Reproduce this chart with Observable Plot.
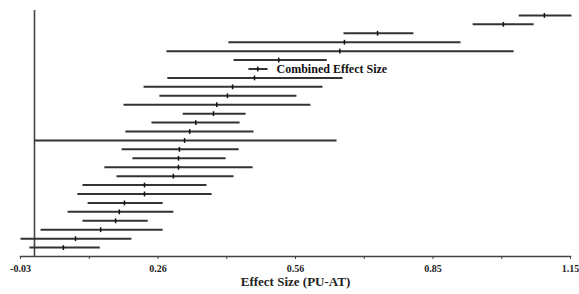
<!DOCTYPE html>
<html>
<head>
<meta charset="utf-8">
<script src="https://cdn.jsdelivr.net/npm/d3@7"></script>
<script src="https://cdn.jsdelivr.net/npm/@observablehq/plot@0.6"></script>
<style>
  html, body { margin: 0; padding: 0; background: #fff; }
  #chart svg { display: block; }
</style>
</head>
<body>
<div id="chart"></div>
<script>
// Rows from top to bottom (sorted by effect size); "" = individual study
const rowLabels = ["", "", "", "", "", "", "Combined Effect Size", "", "", "", "", "", "", "", "", "", "", "", "", "", "", "", "", "", "", "", ""];
const effect = [1.094, 1.006, 0.736, 0.665, 0.655, 0.524, 0.479, 0.472, 0.425, 0.414, 0.391, 0.384, 0.346, 0.333, 0.322, 0.311, 0.309, 0.309, 0.298, 0.236, 0.236, 0.193, 0.182, 0.174, 0.142, 0.088, 0.062];
const lower  = [1.039, 0.940, 0.663, 0.416, 0.283, 0.427, 0.459, 0.285, 0.234, 0.268, 0.191, 0.318, 0.251, 0.195, 0.000, 0.187, 0.210, 0.150, 0.176, 0.103, 0.092, 0.114, 0.071, 0.103, 0.013, -0.030, -0.011];
const upper  = [1.152, 1.071, 0.813, 0.914, 1.028, 0.627, 0.500, 0.661, 0.618, 0.562, 0.592, 0.453, 0.440, 0.470, 0.648, 0.438, 0.410, 0.468, 0.427, 0.369, 0.380, 0.275, 0.298, 0.243, 0.275, 0.208, 0.140];

const majorTicks = [-0.03, 0.265, 0.56, 0.855, 1.15];
const tickLabels = ["-0.03", "0.26", "0.56", "0.85", "1.15"];
const minorTicks = [0.1175, 0.4125, 0.7075, 1.0025];
const xTitle = "Effect Size (PU-AT)";

const rows = effect.map((e, i) => ({i, effect: e, lo: lower[i], hi: upper[i], label: rowLabels[i]}));
const n = rows.length;

const serif = "'Liberation Serif', 'Times New Roman', serif";

const chart = Plot.plot({
  width: 579,
  height: 294,
  marginLeft: 20,
  marginRight: 9,
  marginTop: 6,
  marginBottom: 38,
  style: {fontFamily: serif, background: "#fff", color: "#222"},
  x: {domain: [-0.03, 1.15]},
  y: {domain: [n, -1], axis: null},
  marks: [
    Plot.ruleX([0], {stroke: "#444", strokeWidth: 1.6, insetTop: 4}),
    Plot.frame({anchor: "bottom", stroke: "#444", strokeWidth: 1.6}),
    Plot.axisX({ticks: minorTicks, tickSize: 3, tickFormat: () => "", label: null, stroke: "#444"}),
    Plot.axisX({ticks: majorTicks, tickSize: 3, tickPadding: 5, tickFormat: (d, i) => tickLabels[i],
      label: null, fontSize: 10, fontWeight: "bold", fontFamily: serif, fill: "#222", stroke: "#444"}),
    Plot.text([xTitle], {frameAnchor: "bottom", dy: 29, fontSize: 13, fontWeight: "bold", fontFamily: serif, fill: "#222"}),
    Plot.link(rows, {x1: "lo", x2: "hi", y1: "i", y2: "i", stroke: "#333", strokeWidth: 2}),
    Plot.link(rows, {x1: "effect", x2: "effect", y1: d => d.i - 0.27, y2: d => d.i + 0.27, stroke: "#111", strokeWidth: 1.5}),
    Plot.text(rows.filter(d => d.label), {x: "hi", y: "i", text: "label", textAnchor: "start", dx: 9,
      fontSize: 12, fontWeight: "bold", fontFamily: serif, fill: "#111"})
  ]
});
document.getElementById("chart").append(chart);
</script>
</body>
</html>
